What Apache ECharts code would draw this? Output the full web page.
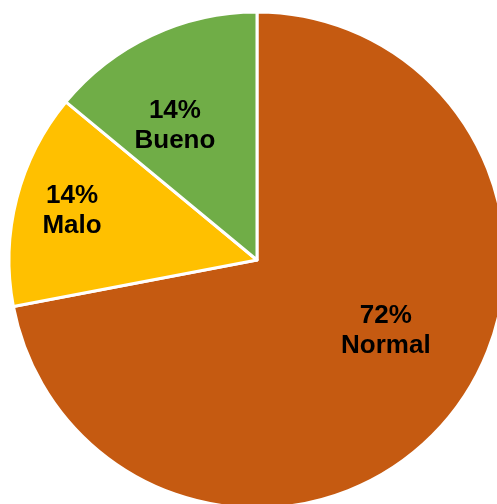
<!DOCTYPE html>
<html>
<head>
<meta charset="utf-8">
<script src="https://cdn.jsdelivr.net/npm/echarts@6/dist/echarts.min.js"></script>
<style>html,body{margin:0;padding:0;background:#fff;}#c{width:497px;height:504px;}</style>
</head>
<body>
<div id="c"></div>
<script>
const categories = ['Normal', 'Malo', 'Bueno'];
const values = [72, 14, 14];
const colors = ['#C55A11', '#FFC000', '#70AD47'];
const labelOffsets = [[31, -10], [-62, -18], [-28, -19]];

const chart = echarts.init(document.getElementById('c'), null, {renderer: 'canvas'});
chart.setOption({
  animation: false,
  series: [{
    type: 'pie',
    center: [257, 260],
    radius: [0, 248],
    startAngle: 90,
    clockwise: true,
    percentPrecision: 0,
    avoidLabelOverlap: false,
    itemStyle: {borderColor: '#ffffff', borderWidth: 3},
    label: {
      show: true,
      position: 'inside',
      formatter: '{d}%\n{b}',
      color: '#000000',
      fontFamily: 'Liberation Sans, Arial, sans-serif',
      fontWeight: 'bold',
      fontSize: 26,
      lineHeight: 30,
      align: 'center'
    },
    labelLine: {show: false},
    emphasis: {disabled: true},
    data: categories.map((c, i) => ({
      name: c,
      value: values[i],
      itemStyle: {color: colors[i]},
      label: {offset: labelOffsets[i]}
    }))
  }]
});
</script>
</body>
</html>
